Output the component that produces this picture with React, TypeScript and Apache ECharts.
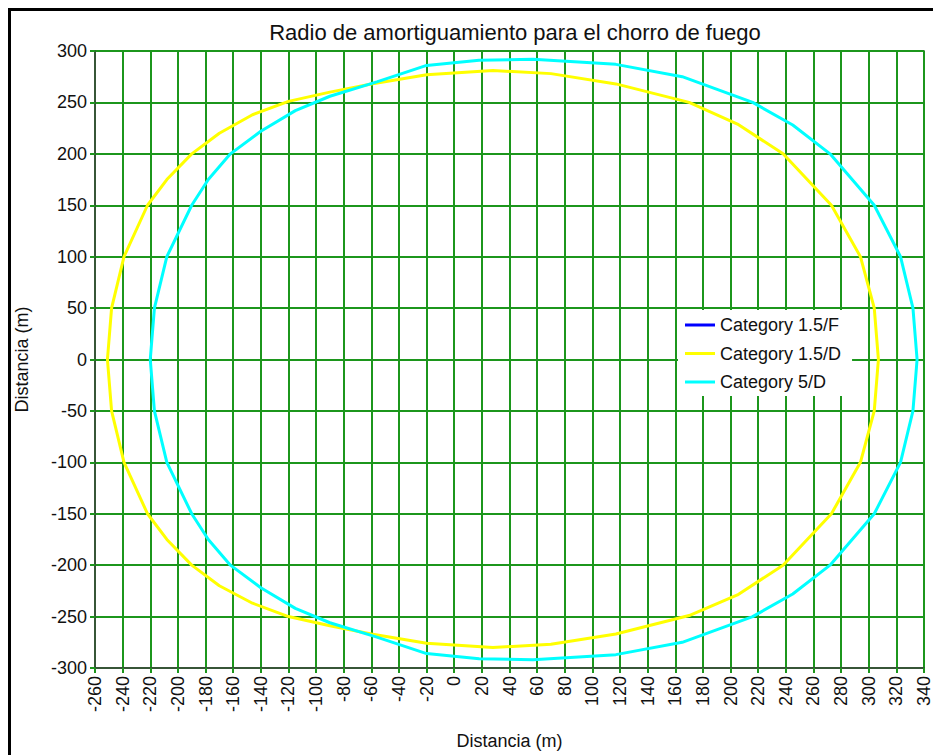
import React, { useEffect, useRef } from "react";
import * as echarts from "echarts";

const TITLE = "Radio de amortiguamiento para el chorro de fuego";
const X_NAME = "Distancia (m)";
const Y_NAME = "Distancia (m)";

const seriesNames = ["Category 1.5/F", "Category 1.5/D", "Category 5/D"];
const seriesColors = ["#0000ff", "#ffff00", "#00ffff"];

const X_MIN = -260;
const X_MAX = 340;
const X_STEP = 20;
const Y_MIN = -300;
const Y_MAX = 300;
const Y_STEP = 50;

// Category 1.5/F: no visible contour in the reference
const cat15F: [number, number][] = [];

// Category 1.5/D (yellow)
const cat15D: [number, number][] = [
  [307, 0], [304, 50], [294, 100], [273, 150], [238, 200], [205, 229], [170, 250],
  [117, 268], [70, 278], [28, 281], [-20, 277], [-60, 268], [-90, 260], [-120, 251],
  [-146, 238], [-170, 220], [-190, 200], [-208, 175], [-222, 150], [-239, 100],
  [-248, 50], [-251, 0],
  [-248, -50], [-239, -100], [-222, -150], [-208, -175], [-190, -200], [-170, -220],
  [-146, -237], [-120, -250], [-90, -259], [-60, -267], [-20, -276], [28, -280],
  [70, -277], [117, -267], [170, -249], [205, -229], [238, -200], [273, -150],
  [294, -100], [304, -50], [307, 0],
];

// Category 5/D (cyan)
const cat5D: [number, number][] = [
  [335, 0], [332, 50], [323, 100], [304, 150], [272, 200], [245, 228], [216, 250],
  [165, 275], [117, 287], [57, 292], [18, 291], [-20, 286], [-56, 270], [-90, 256],
  [-115, 242], [-140, 222], [-162, 200], [-178, 175], [-190, 150], [-208, 100],
  [-217, 50], [-220, 0],
  [-217, -50], [-208, -100], [-190, -150], [-178, -175], [-162, -200], [-140, -222],
  [-115, -242], [-90, -256], [-56, -270], [-20, -286], [18, -291], [57, -292],
  [117, -287], [165, -275], [216, -250], [245, -228], [272, -200], [304, -150],
  [323, -100], [332, -50], [335, 0],
];

const seriesData = [cat15F, cat15D, cat5D];

const FONT = "'Liberation Sans', Arial, sans-serif";
const GRID_GREEN = "#1c961c";
const FRAME = "#404040";
const TEXT = "#111111";

export default function App() {
  const ref = useRef<HTMLDivElement>(null);

  useEffect(() => {
    if (!ref.current) return;
    const chart = echarts.init(ref.current, undefined, { renderer: "svg" });
    chart.setOption({
      animation: false,
      title: {
        text: TITLE,
        left: 510,
        textAlign: "center",
        top: 16,
        textStyle: { fontSize: 22, fontWeight: "normal", color: TEXT, fontFamily: FONT },
      },
      grid: {
        left: 95,
        right: 2,
        top: 51,
        bottom: 87,
        show: true,
        borderColor: FRAME,
        borderWidth: 1.5,
        backgroundColor: "transparent",
      },
      legend: {
        data: seriesNames,
        orient: "vertical",
        left: 678,
        top: 310,
        backgroundColor: "#ffffff",
        padding: [5, 11, 4, 7],
        itemWidth: 30,
        itemHeight: 3,
        itemGap: 8.5,
        icon: "rect",
        textStyle: { fontSize: 18, lineHeight: 20, color: TEXT, fontFamily: FONT },
      },
      xAxis: {
        type: "value",
        min: X_MIN,
        max: X_MAX,
        interval: X_STEP,
        name: X_NAME,
        nameLocation: "middle",
        nameGap: 64,
        nameTextStyle: { fontSize: 18, color: TEXT, fontFamily: FONT },
        axisLine: { show: true, onZero: false, lineStyle: { color: FRAME, width: 1.5 } },
        axisTick: { show: true, length: 5, lineStyle: { color: GRID_GREEN, width: 2 } },
        splitLine: { show: true, lineStyle: { color: GRID_GREEN, width: 2 } },
        axisLabel: { rotate: 90, fontSize: 18, color: TEXT, fontFamily: FONT, margin: 8 },
      },
      yAxis: {
        type: "value",
        min: Y_MIN,
        max: Y_MAX,
        interval: Y_STEP,
        name: Y_NAME,
        nameLocation: "middle",
        nameGap: 64,
        nameTextStyle: { fontSize: 18, color: TEXT, fontFamily: FONT },
        axisLine: { show: true, onZero: false, lineStyle: { color: FRAME, width: 1.5 } },
        axisTick: { show: true, length: 5, lineStyle: { color: GRID_GREEN, width: 2 } },
        splitLine: { show: true, lineStyle: { color: GRID_GREEN, width: 2 } },
        axisLabel: { fontSize: 18, color: TEXT, fontFamily: FONT, margin: 8 },
      },
      series: seriesNames.map((name, i) => ({
        name,
        type: "line",
        data: seriesData[i],
        symbol: "none",
        showSymbol: false,
        smooth: false,
        lineStyle: { width: 3, color: seriesColors[i] },
        itemStyle: { color: seriesColors[i] },
      })),
    });
    return () => chart.dispose();
  }, []);

  return (
    <div
      style={{
        position: "fixed",
        left: 0,
        top: 0,
        width: 933,
        height: 755,
        overflow: "hidden",
        background: "#ffffff",
      }}
    >
      <div
        style={{
          position: "absolute",
          left: 8,
          top: 8,
          width: 1200,
          height: 1200,
          borderLeft: "3px solid #000",
          borderTop: "3px solid #000",
          boxSizing: "border-box",
        }}
      />
      <div ref={ref} style={{ position: "absolute", left: 0, top: 0, width: 933, height: 755 }} />
    </div>
  );
}
